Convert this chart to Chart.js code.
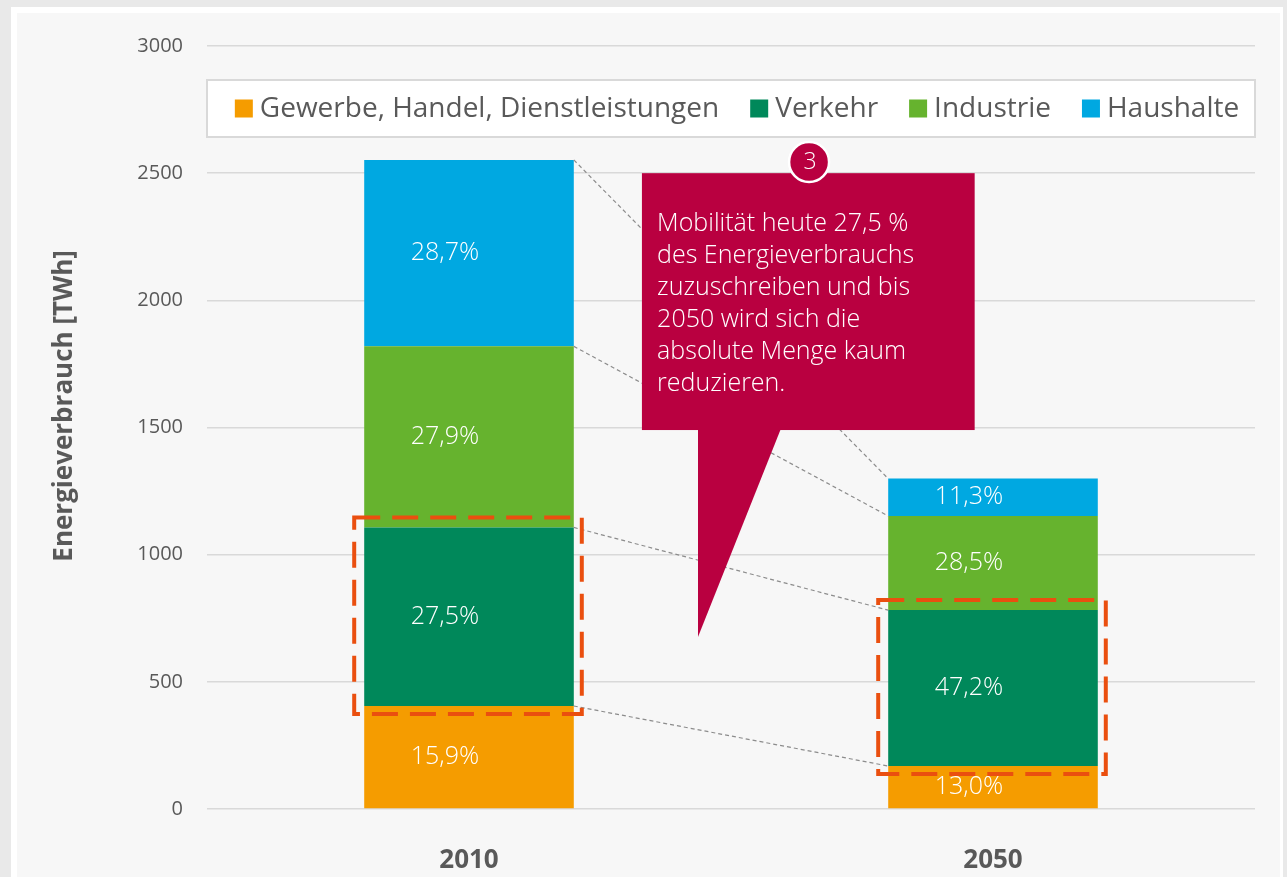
<!DOCTYPE html>
<html lang="de">
<head>
<meta charset="utf-8">
<title>Energieverbrauch nach Sektoren</title>
<script src="https://cdn.jsdelivr.net/npm/chart.js@4"></script>
<style>
  html, body { margin: 0; padding: 0; background: #e9e9e9; overflow: hidden; }
  .panel {
    position: absolute; left: 11px; top: 7px; width: 1263px; height: 880px;
    background: #f7f7f7;
    border-top: 6px solid #fff; border-left: 6px solid #fff; border-right: 3px solid #fff;
  }
  #chart { position: absolute; left: 0; top: 0; }
</style>
</head>
<body>
<div class="panel"></div>
<canvas id="chart" width="1287" height="877"></canvas>
<script>
/*-------------------------
~~~~~~~~~~~Data~~~~~~~~~~~~
-------------------------*/
const categories = ['2010', '2050'];
const seriesNames = ['Gewerbe, Handel, Dienstleistungen', 'Verkehr', 'Industrie', 'Haushalte'];
const gewerbe = [405, 169];
const verkehr = [702, 613];
const industrie = [712, 370];
const haushalte = [733, 147];
const yTicks = [0, 500, 1000, 1500, 2000, 2500, 3000];
const yTitle = 'Energieverbrauch [TWh]';
const calloutLines = [
    'Mobilität heute 27,5 %',
    'des Energieverbrauchs',
    'zuzuschreiben und bis',
    '2050 wird sich die',
    'absolute Menge kaum',
    'reduzieren.'
];
const calloutNumber = '3';
const highlightedSeries = 1; // Verkehr

const stacks = [gewerbe, verkehr, industrie, haushalte];
const seriesColors = ['#f59c00', '#00885a', '#66b32e', '#00a8e1'];

/*-------------------------
~~~~~~~~~~~Styles~~~~~~~~~~
-------------------------*/
const FONT = "'Open Sans', 'Segoe UI', sans-serif";
const TEXT_GREY = '#595959';
const CRIMSON = '#b90040';

/*-------------------------
~~~~~~~~~~Plugins~~~~~~~~~~
-------------------------*/
// dashed lines joining the segment tops of both bars
const connectors = {
    id: 'connectors',
    afterDatasetsDraw(chart) {
        const c = chart.ctx;
        c.save();
        c.strokeStyle = '#8c8c8c';
        c.lineWidth = 1.2;
        c.setLineDash([4, 3]);
        chart.data.datasets.forEach((ds, d) => {
            const [a, b] = chart.getDatasetMeta(d).data;
            c.beginPath();
            c.moveTo(a.x + a.width / 2, a.y);
            c.lineTo(b.x - b.width / 2, b.y);
            c.stroke();
        });
        c.restore();
    }
};

// percentage of the bar total, inside each segment
const segmentLabels = {
    id: 'segmentLabels',
    afterDatasetsDraw(chart) {
        const c = chart.ctx;
        c.save();
        c.font = `300 25px ${FONT}`;
        c.fillStyle = '#fff';
        c.textAlign = 'center';
        c.textBaseline = 'middle';
        chart.data.datasets.forEach((ds, d) => {
            chart.getDatasetMeta(d).data.forEach((bar, i) => {
                const total = stacks.reduce((s, arr) => s + arr[i], 0);
                const text = (ds.data[i] / total * 100).toFixed(1).replace('.', ',') + '%';
                c.fillText(text, bar.x - bar.width * 0.115, (bar.y + bar.base) / 2);
            });
        });
        c.restore();
    }
};

// orange dashed frame round the Verkehr segments
const highlight = {
    id: 'highlight',
    afterDatasetsDraw(chart) {
        const c = chart.ctx;
        c.save();
        c.strokeStyle = '#ea4f0f';
        c.lineWidth = 4;
        c.setLineDash([26, 12]);
        chart.getDatasetMeta(highlightedSeries).data.forEach(bar => {
            const left = bar.x - bar.width / 2 - 10;
            const right = bar.x + bar.width / 2 + 8;
            c.strokeRect(left, bar.y - 10, right - left, bar.base - bar.y + 18);
        });
        c.restore();
    }
};

// speech bubble between the bars
const callout = {
    id: 'callout',
    afterDatasetsDraw(chart) {
        const xs = chart.scales.x, ys = chart.scales.y;
        const x0 = xs.getPixelForValue(0), x1 = xs.getPixelForValue(1);
        const px = f => x0 + (x1 - x0) * f;
        const c = chart.ctx;

        const left = px(0.33), right = px(0.965);
        const top = ys.getPixelForValue(2500), bottom = ys.getPixelForValue(1490);

        c.save();
        c.fillStyle = CRIMSON;
        c.fillRect(left, top, right - left, bottom - top);
        c.beginPath();
        c.moveTo(px(0.437), bottom - 1);
        c.lineTo(px(0.595), bottom - 1);
        c.lineTo(px(0.437), ys.getPixelForValue(676));
        c.closePath();
        c.fill();

        // numbered badge
        const cx = px(0.649), cy = ys.getPixelForValue(2544);
        c.beginPath();
        c.arc(cx, cy, 20, 0, Math.PI * 2);
        c.fill();
        c.strokeStyle = '#fff';
        c.lineWidth = 2.5;
        c.stroke();

        c.fillStyle = '#fff';
        c.font = `300 23px ${FONT}`;
        c.textAlign = 'center';
        c.textBaseline = 'middle';
        c.fillText(calloutNumber, cx + 1, cy);

        c.textAlign = 'left';
        c.textBaseline = 'alphabetic';
        c.font = `300 25px ${FONT}`;
        calloutLines.forEach((line, i) => {
            c.fillText(line, px(0.359), top + 58 + i * 32);
        });
        c.restore();
    }
};

// framed legend inside the plot area
const legendBox = {
    id: 'legendBox',
    afterDatasetsDraw(chart) {
        const { left, right, top } = chart.chartArea;
        const c = chart.ctx;
        const boxTop = top + 34, boxH = 57;
        c.save();
        c.fillStyle = '#fff';
        c.fillRect(left, boxTop, right - left, boxH);
        c.strokeStyle = '#d9d9d9';
        c.lineWidth = 2;
        c.strokeRect(left, boxTop, right - left, boxH);

        c.font = `28px ${FONT}`;
        const sq = 18, gap = 7, spacing = 31;
        const widths = seriesNames.map(n => c.measureText(n).width);
        const total = widths.reduce((s, w) => s + sq + gap + w, 0) + spacing * (seriesNames.length - 1);
        let x = (left + right) / 2 + 6 - total / 2;
        const cy = boxTop + boxH / 2;
        c.textBaseline = 'middle';
        seriesNames.forEach((name, i) => {
            c.fillStyle = seriesColors[i];
            c.fillRect(x, cy - sq / 2, sq, sq);
            c.fillStyle = TEXT_GREY;
            c.fillText(name, x + sq + gap, cy + 1);
            x += sq + gap + widths[i] + spacing;
        });
        c.restore();
    }
};

// rotated y axis title, a little above the plot centre
const axisTitle = {
    id: 'axisTitle',
    afterDraw(chart) {
        const ys = chart.scales.y;
        const c = chart.ctx;
        c.save();
        c.translate(65, ys.getPixelForValue(1585));
        c.rotate(-Math.PI / 2);
        c.font = `bold 26px ${FONT}`;
        c.fillStyle = TEXT_GREY;
        c.textAlign = 'center';
        c.textBaseline = 'middle';
        c.fillText(yTitle, 0, 0);
        c.restore();
    }
};

/*-------------------------
~~~~~~~~~~~Chart~~~~~~~~~~~
-------------------------*/
const ctx = document.getElementById('chart').getContext('2d');

new Chart(ctx, {
    type: 'bar',
    data: {
        labels: categories,
        datasets: seriesNames.map((name, i) => ({
            label: name,
            data: stacks[i],
            backgroundColor: seriesColors[i],
            borderWidth: 0,
            categoryPercentage: 1,
            barPercentage: 0.4
        }))
    },
    options: {
        responsive: false,
        animation: false,
        layout: { padding: { top: 46, right: 32, left: 0, bottom: 0 } },
        plugins: {
            legend: { display: false },
            tooltip: { enabled: false }
        },
        scales: {
            x: {
                stacked: true,
                grid: { display: false },
                border: { display: false },
                ticks: {
                    color: TEXT_GREY,
                    font: { family: FONT, size: 26, weight: 'bold' },
                    padding: 28
                },
                afterFit(scale) { scale.height = 68; }
            },
            y: {
                stacked: true,
                min: 0,
                max: 3000,
                afterBuildTicks(scale) { scale.ticks = yTicks.map(v => ({ value: v })); },
                grid: { color: '#d9d9d9', lineWidth: 1.5, drawTicks: false },
                border: { display: false },
                ticks: {
                    color: TEXT_GREY,
                    font: { family: FONT, size: 20 },
                    padding: 24,
                    callback: value => String(value)
                },
                afterFit(scale) { scale.width = 207; }
            }
        }
    },
    plugins: [connectors, segmentLabels, highlight, callout, legendBox, axisTitle]
});
</script>
</body>
</html>
